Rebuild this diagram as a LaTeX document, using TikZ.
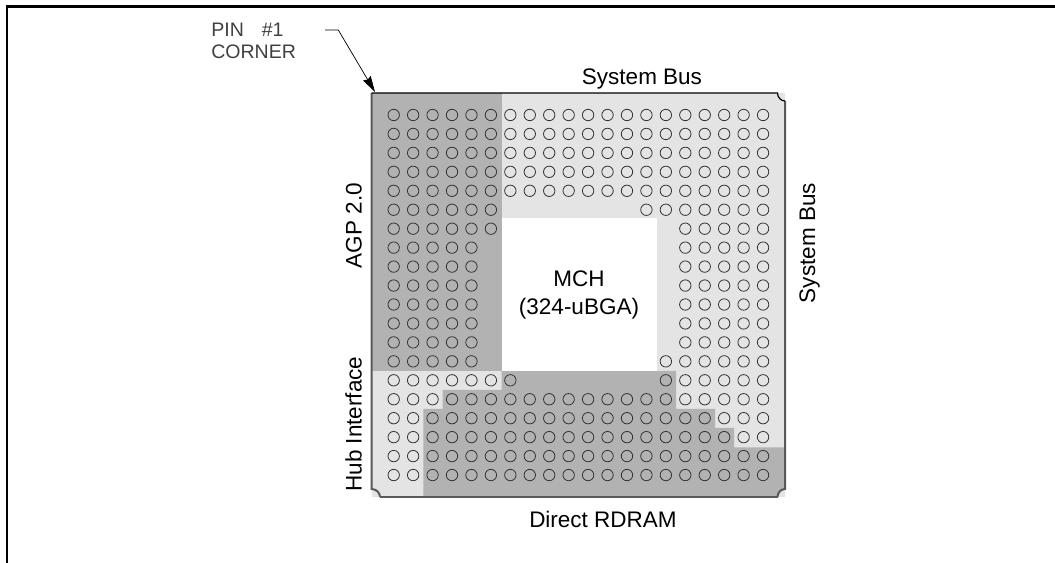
\documentclass[tikz,border=0pt]{standalone}
\usepackage{fontspec}
\setmainfont{Liberation Sans}
\usepackage{tikz}
\usetikzlibrary{arrows.meta}

\tikzset{
  pinhole/.style={draw=black!80, line width=0.02cm},
  chipside/.style={draw=black!65, line width=0.05cm},
  chipedge/.style={draw=black, line width=0.03cm},
  buslabel/.style={inner sep=0pt, font=\fontsize{16}{20}\selectfont},
  cornerlabel/.style={inner sep=0pt, align=left, text=black!75,
    font=\fontsize{13.9}{15.2}\selectfont},
}

\definecolor{lightpad}{HTML}{E4E4E4}
\definecolor{darkpad}{HTML}{B2B2B2}

\begin{document}
\begin{tikzpicture}[x=0.025cm, y=-0.025cm]
        \useasboundingbox (0, 0) rectangle (1055, 563);

        % page frame
        \draw [line width=0.058cm] (7, 563) -- (7, 6.5) -- (1055, 6.5);

        % package
        \fill [lightpad] (371.5, 93) rectangle (785, 497);

        % AGP 2.0
        \fill [darkpad] (371.5, 93) rectangle (501.7, 371);

        % Direct RDRAM
        \fill [darkpad] (423.3, 497) -- (423.3, 409) -- (442.7, 409) -- (442.7, 390)
          -- (501.7, 390) -- (501.7, 371) -- (676, 371) -- (676, 409) -- (715, 409)
          -- (715, 428) -- (734, 428) -- (734, 447.3) -- (785, 447.3) -- (785, 489)
          .. controls (781, 489) and (777.5, 492.5) .. (777.5, 497) -- cycle;

        % die window
        \fill [white] (501.7, 218.3) rectangle (657.3, 371);

        % outline
        \draw [chipside] (371.5, 93) -- (371.5, 489)
          .. controls (376, 489) and (380, 492.5) .. (380, 497);
        \draw [chipside] (785, 101) -- (785, 489)
          .. controls (781, 489) and (777.5, 492.5) .. (777.5, 497);
        \draw [chipside] (380, 497) -- (777.5, 497);
        \draw [chipedge] (371.5, 93) -- (777.5, 93)
          .. controls (777.5, 97.5) and (781, 101) .. (785, 101);

        % pins
        \foreach \row/\first/\last in {0/0/19, 1/0/19, 2/0/19, 3/0/19, 4/0/19,
            5/0/5, 5/13/19, 6/0/5, 6/15/19, 7/0/4, 7/15/19, 8/0/4, 8/15/19,
            9/0/4, 9/15/19, 10/0/4, 10/15/19, 11/0/4, 11/15/19, 12/0/4, 12/15/19,
            13/0/4, 13/14/19, 14/0/6, 14/14/19, 15/0/19, 16/0/19, 17/0/19,
            18/0/19, 19/0/19}
          \foreach \col in {\first, ..., \last}
            \draw [pinhole] ({393.7 + 19.44 * \col}, {115 + 18.95 * \row}) circle (5.7);

        % pin 1 leader
        \coordinate (leaderstart) at (325, 30);
        \coordinate (leaderbend) at (338.3, 30);
        \coordinate (pincorner) at (375, 92);
        \draw [line width=0.018cm, -{Stealth[length=0.4cm, width=0.22cm, inset=0.04cm]}]
          (leaderstart) -- (leaderbend) -- (pincorner);
        \node [cornerlabel, anchor=west] (pinlabel) at (211, 41)
          {PIN\ \ \hspace{5pt}\#1\\CORNER};

        % labels
        \node [buslabel, anchor=base] (busnorth) at (642, 85) {System Bus};
        \node [buslabel, anchor=base, rotate=90] (buseast) at (815, 243) {System Bus};
        \node [buslabel, anchor=base, rotate=90] (agplabel) at (361.5, 225.6) {AGP 2.0};
        \node [buslabel, anchor=base, rotate=90] (hublabel) at (361.5, 424) {Hub Interface};
        \node [buslabel, anchor=base] (rdramlabel) at (603, 528) {Direct RDRAM};
        \node [buslabel, align=center] (mchlabel) at (579, 295) {MCH\\(324-uBGA)};
\end{tikzpicture}
\end{document}
